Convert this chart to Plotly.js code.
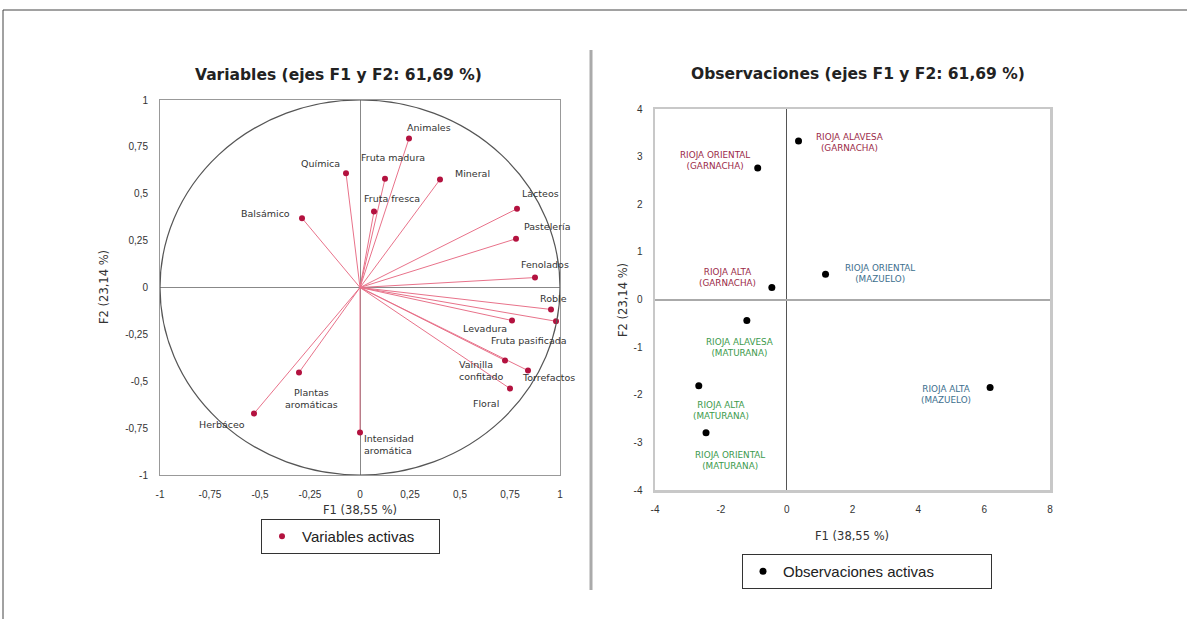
<!DOCTYPE html>
<html>
<head>
<meta charset="utf-8">
<script src="https://cdn.plot.ly/plotly-3.0.1.min.js"></script>
<style>html,body{margin:0;padding:0;background:#fff;}#chart{width:1187px;height:619px;}</style>
</head>
<body>
<div id="chart"></div>
<script>
// ---- Data: variables (correlation circle) ----
const varNames = ['Animales','Fruta madura','Química','Mineral','Fruta fresca','Balsámico','Lácteos','Pastelería','Fenolados','Roble','Fruta pasificada','Levadura','Vainilla<br>confitado','Torrefactos','Floral','Intensidad<br>aromática','Herbáceo','Plantas<br>aromáticas'];
const varF1 = [0.245,0.125,-0.07,0.40,0.07,-0.29,0.785,0.78,0.875,0.955,0.98,0.76,0.725,0.84,0.75,0.0,-0.53,-0.305];
const varF2 = [0.795,0.58,0.61,0.576,0.405,0.37,0.42,0.26,0.053,-0.117,-0.18,-0.176,-0.389,-0.443,-0.539,-0.773,-0.672,-0.453];

// ---- Data: observations ----
const obsNames = ['RIOJA ALAVESA<br>(GARNACHA)','RIOJA ORIENTAL<br>(GARNACHA)','RIOJA ALTA<br>(GARNACHA)','RIOJA ORIENTAL<br>(MAZUELO)','RIOJA ALAVESA<br>(MATURANA)','RIOJA ALTA<br>(MATURANA)','RIOJA ORIENTAL<br>(MATURANA)','RIOJA ALTA<br>(MAZUELO)'];
const obsVariety = ['GARNACHA','GARNACHA','GARNACHA','MAZUELO','MATURANA','MATURANA','MATURANA','MAZUELO'];
const obsF1 = [0.36,-0.88,-0.45,1.18,-1.21,-2.67,-2.45,6.18];
const obsF2 = [3.33,2.76,0.25,0.53,-0.44,-1.81,-2.80,-1.85];

// ---- Tick labels ----
const leftTickVals = [-1,-0.75,-0.5,-0.25,0,0.25,0.5,0.75,1];
const leftTickText = ['-1','-0,75','-0,5','-0,25','0','0,25','0,5','0,75','1'];
const rightXTicks = [-4,-2,0,2,4,6,8];
const rightXText = ['-4','-2','0','2','4','6','8'];
const rightYTicks = [-4,-3,-2,-1,0,1,2,3,4];
const rightYText = ['-4','-3','-2','-1','0','1','2','3','4'];

// ---- Styling (label offsets in px) ----
const varLabelStyle = [
  ['left',-4,11],['center',8,21],['right',-4,10],['left',13,6],['center',18,13],['right',-10,5],
  ['left',3,15],['left',6,12],['center',10,13],['center',2,11],['center',-27,-19],['center',-27,-8],
  ['left',-48,-10],['left',-8,-7],['center',-24,-15],['left',2,-12],['right',-7,-11],['center',12,-26]
];
const obsLabelStyle = [[51,-2],[-43,8],[-44,10],[54,1],[-7,-27],[22,-25],[24,-28],[-44,-7]];
const varietyColor = {GARNACHA:'#9b2a48', MAZUELO:'#3d6f8e', MATURANA:'#3c9a4c'};

const W = 1187, H = 619;
const px = v => v / W, py = v => 1 - v / H;
const FONT = 'Liberation Sans, Arial, sans-serif';
const WIDE = 'DejaVu Sans, Verdana, sans-serif';

// vectors from origin
const vx = [], vy = [];
varF1.forEach((x, i) => { vx.push(0, x, null); vy.push(0, varF2[i], null); });

const traces = [
  {x: vx, y: vy, mode: 'lines', line: {color: '#e8728a', width: 1}, xaxis: 'x', yaxis: 'y', showlegend: false, hoverinfo: 'skip'},
  {x: varF1, y: varF2, mode: 'markers', name: 'Variables activas', marker: {color: '#b3123f', size: 6}, xaxis: 'x', yaxis: 'y', legend: 'legend'},
  {x: obsF1, y: obsF2, mode: 'markers', name: 'Observaciones activas', marker: {color: '#000', size: 7}, xaxis: 'x2', yaxis: 'y2', legend: 'legend2'}
];

const annotations = [];
varNames.forEach((t, i) => {
  const s = varLabelStyle[i];
  annotations.push({text: t, x: varF1[i], y: varF2[i], xref: 'x', yref: 'y', showarrow: false,
    xanchor: s[0], align: s[0] === 'center' ? 'center' : 'left', xshift: s[1], yshift: s[2],
    font: {family: WIDE, size: 9.5, color: '#333'}});
});
obsNames.forEach((t, i) => {
  const s = obsLabelStyle[i];
  annotations.push({text: t, x: obsF1[i], y: obsF2[i], xref: 'x2', yref: 'y2', showarrow: false,
    xanchor: 'center', align: 'center', xshift: s[0], yshift: s[1],
    font: {family: WIDE, size: 8.8, color: varietyColor[obsVariety[i]]}});
});
// titles
annotations.push({text: '<b>Variables (ejes F1 y F2: 61,69 %)</b>', x: px(338), y: py(75), xref: 'paper', yref: 'paper', showarrow: false, xanchor: 'center', yanchor: 'middle', font: {family: WIDE, size: 15.5, color: '#222'}});
annotations.push({text: '<b>Observaciones (ejes F1 y F2: 61,69 %)</b>', x: px(858), y: py(74), xref: 'paper', yref: 'paper', showarrow: false, xanchor: 'center', yanchor: 'middle', font: {family: WIDE, size: 15.5, color: '#222'}});
// axis titles
annotations.push({text: 'F1 (38,55 %)', x: px(360), y: py(510), xref: 'paper', yref: 'paper', showarrow: false, xanchor: 'center', yanchor: 'middle', font: {family: WIDE, size: 11.5, color: '#333'}});
annotations.push({text: 'F2 (23,14 %)', x: px(104), y: py(287), xref: 'paper', yref: 'paper', showarrow: false, textangle: -90, xanchor: 'center', yanchor: 'middle', font: {family: WIDE, size: 11.5, color: '#333'}});
annotations.push({text: 'F1 (38,55 %)', x: px(852), y: py(536), xref: 'paper', yref: 'paper', showarrow: false, xanchor: 'center', yanchor: 'middle', font: {family: WIDE, size: 11.5, color: '#333'}});
annotations.push({text: 'F2 (23,14 %)', x: px(623), y: py(300), xref: 'paper', yref: 'paper', showarrow: false, textangle: -90, xanchor: 'center', yanchor: 'middle', font: {family: WIDE, size: 11.5, color: '#333'}});

const axCommon = {showgrid: false, ticks: '', showline: true, mirror: true, zeroline: true, fixedrange: true,
  tickfont: {family: FONT, size: 10, color: '#333'}};

const layout = {
  width: W, height: H, margin: {l: 0, r: 0, t: 0, b: 0},
  paper_bgcolor: '#fff', plot_bgcolor: '#fff',
  xaxis: Object.assign({}, axCommon, {domain: [px(160), px(560)], range: [-1, 1], tickvals: leftTickVals, ticktext: leftTickText,
    linecolor: '#999', linewidth: 1, zerolinecolor: '#888', zerolinewidth: 1, anchor: 'y', ticklabelstandoff: 10}),
  yaxis: Object.assign({}, axCommon, {domain: [py(475), py(100)], range: [-1, 1], tickvals: leftTickVals, ticktext: leftTickText,
    linecolor: '#999', linewidth: 1, zerolinecolor: '#888', zerolinewidth: 1, anchor: 'x', ticklabelstandoff: 9}),
  xaxis2: Object.assign({}, axCommon, {domain: [px(655), px(1050)], range: [-4, 8], tickvals: rightXTicks, ticktext: rightXText,
    linecolor: '#c8c8c8', linewidth: 2.5, zerolinecolor: '#555', zerolinewidth: 1, anchor: 'y2', ticklabelstandoff: 8}),
  yaxis2: Object.assign({}, axCommon, {domain: [py(490), py(109)], range: [-4, 4], tickvals: rightYTicks, ticktext: rightYText,
    linecolor: '#c8c8c8', linewidth: 2.5, zerolinecolor: '#aaa', zerolinewidth: 2, anchor: 'x2', ticklabelstandoff: 8}),
  legend: {x: px(261), y: py(519), xanchor: 'left', yanchor: 'top', bordercolor: '#333', borderwidth: 1,
    font: {family: FONT, size: 15, color: '#222'}, orientation: 'h', entrywidth: 132, bgcolor: '#fff'},
  legend2: {x: px(742), y: py(554), xanchor: 'left', yanchor: 'top', bordercolor: '#333', borderwidth: 1,
    font: {family: FONT, size: 15, color: '#222'}, orientation: 'h', entrywidth: 203, bgcolor: '#fff'},
  shapes: [
    {type: 'circle', xref: 'x', yref: 'y', x0: -1, x1: 1, y0: -1, y1: 1, line: {color: '#555', width: 1.2}},
    {type: 'line', xref: 'paper', yref: 'paper', x0: px(591), x1: px(591), y0: py(50), y1: py(590), line: {color: '#aaa', width: 3}},
    {type: 'line', xref: 'paper', yref: 'paper', x0: px(3), x1: 1, y0: py(10), y1: py(10), line: {color: '#444', width: 1}},
    {type: 'line', xref: 'paper', yref: 'paper', x0: px(3), x1: px(3), y0: py(10), y1: 0, line: {color: '#444', width: 1}}
  ],
  annotations: annotations,
  showlegend: true
};

Plotly.newPlot('chart', traces, layout, {displayModeBar: false, staticPlot: true});
</script>
</body>
</html>
